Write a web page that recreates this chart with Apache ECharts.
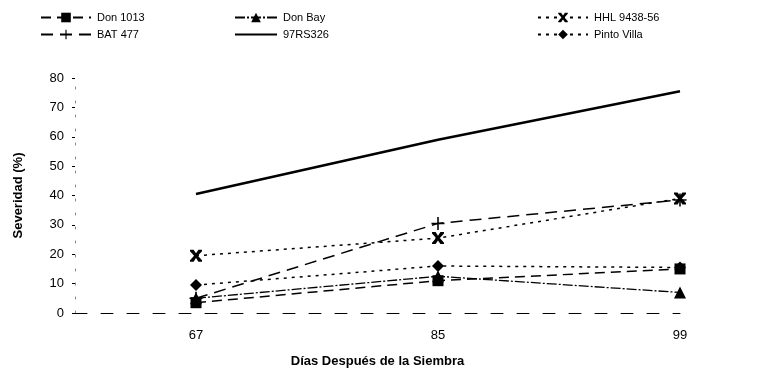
<!DOCTYPE html>
<html>
<head>
<meta charset="utf-8">
<script src="https://cdn.jsdelivr.net/npm/echarts@6/dist/echarts.min.js"></script>
<style>html,body{margin:0;padding:0;background:#fff}#c{width:764px;height:377px}</style>
</head>
<body>
<div id="c"></div>
<script>
var categories = ['67', '85', '99'];
var don1013 = [3.5, 11, 15];
var donBay = [5, 12.5, 7];
var hhl = [19.5, 25.5, 39];
var bat477 = [5, 30.5, 38.5];
var rs326 = [40.5, 59, 75.5];
var pinto = [9.5, 16, 15.5];
var yTicks = [0, 10, 20, 30, 40, 50, 60, 70, 80];

function pts(arr){ return arr.map(function(v,i){ return [i, v]; }); }

var starPath = 'path://M0,0 L3,0 L5,3 L7,0 L10,0 L10,1.2 L6.6,5 L10,8.8 L10,10 L7,10 L5,7 L3,10 L0,10 L0,8.8 L3.4,5 L0,1.2 Z';
var plusPath = 'path://M4.4,0 H5.6 V4.4 H10 V5.6 H5.6 V10 H4.4 V5.6 H0 V4.4 H4.4 Z';
var solidIcon = 'path://M0,0 H50 V2.5 H0 Z';

var font = 'Liberation Sans, Arial, sans-serif';
var chart = echarts.init(document.getElementById('c'), null, {renderer:'canvas'});
function mk(name, data, type, width, symbol, size){
  return {
    name: name, type: 'line', data: pts(data),
    symbol: symbol, symbolSize: size, showSymbol: symbol !== 'none',
    lineStyle: {color:'#000', width: width, type: type},
    itemStyle: {color:'#000', borderWidth:0},
    emphasis: {disabled:true}, z: 3
  };
}
var legendBase = {
  orient:'vertical', itemWidth: 50, itemHeight: 12, itemGap: 6,
  textStyle:{fontFamily:font, fontSize:11, color:'#000', padding:[0,0,0,1]},
  padding:0
};
chart.setOption({
  animation:false,
  backgroundColor:'#fff',
  legend: [
    Object.assign({}, legendBase, {left:40, top:12, data:['Don 1013','BAT 477']}),
    Object.assign({}, legendBase, {left:234, top:12, itemWidth:42, data:['Don Bay',{name:'97RS326', icon:solidIcon}]}),
    Object.assign({}, legendBase, {left:537, top:12, data:['HHL 9438-56','Pinto Villa']})
  ],
  grid: {left:75, right:84, top:78, bottom:64},
  xAxis: {
    type:'value', min:-0.5, max:2, interval:0.5,
    name:'Días Después de la Siembra', nameLocation:'middle', nameGap:42,
    nameTextStyle:{fontFamily:font, fontSize:13, fontWeight:'bold', color:'#000'},
    axisLine:{show:true, lineStyle:{color:'#000', width:1, type:[12,14]}},
    axisTick:{show:false},
    splitLine:{show:false},
    axisLabel:{fontFamily:font, fontSize:13, color:'#000', margin:16,
      formatter:function(v){ return (Math.abs(v-Math.round(v))<1e-6 && v>=0) ? categories[Math.round(v)] : ''; }}
  },
  yAxis: {
    type:'value', min:0, max:80, interval:10,
    name:'Severidad (%)', nameLocation:'middle', nameGap:50,
    nameTextStyle:{fontFamily:font, fontSize:13, fontWeight:'bold', color:'#000'},
    axisLine:{show:true, onZero:false, lineStyle:{color:'#888', width:1, type:[2,12]}},
    axisTick:{show:true, length:3, lineStyle:{color:'#000'}},
    splitLine:{show:false},
    axisLabel:{fontFamily:font, fontSize:13, color:'#000', margin:11,
      formatter:function(v){ return yTicks.indexOf(v) >= 0 ? String(v) : ''; }}
  },
  series: [
    mk('Don 1013', don1013, [10,6], 1.5, 'rect', 11),
    mk('Don Bay', donBay, [10,2,2,2], 1.3, 'triangle', 12),
    mk('HHL 9438-56', hhl, [3,5], 1.5, starPath, 12),
    mk('BAT 477', bat477, [12,7], 1.5, plusPath, 13),
    mk('97RS326', rs326, 'solid', 2.5, 'none', 0),
    mk('Pinto Villa', pinto, [3,5], 1.5, 'diamond', 12)
  ]
});
</script>
</body>
</html>
